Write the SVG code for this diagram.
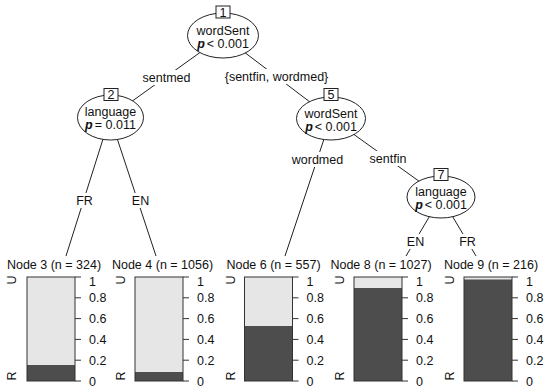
<svg xmlns="http://www.w3.org/2000/svg" width="550" height="391" viewBox="0 0 550 391">
<style>
text{font-family:"Liberation Sans",Arial,sans-serif;font-size:12.5px;fill:#111}
.mid{text-anchor:middle}
.edge{stroke:#222;stroke-width:1;fill:none}
.lblbg{fill:#fff}
.ell{fill:#fff;stroke:#222;stroke-width:1}
.box{fill:#fff;stroke:#222;stroke-width:1}
.light{fill:#e6e6e6}
.dark{fill:#4d4d4d}
.frame{fill:none;stroke:#333;stroke-width:1}
.tick{stroke:#333;stroke-width:1}
.it{font-style:italic;font-weight:bold}
</style>
<rect width="550" height="391" fill="#fff"/>
<g id="connectors">
<line class="edge" x1="223" y1="36" x2="110" y2="117"/>
<line class="edge" x1="223" y1="36" x2="331" y2="118"/>
<line class="edge" x1="110" y1="117" x2="66" y2="256"/>
<line class="edge" x1="110" y1="117" x2="156" y2="256"/>
<line class="edge" x1="331" y1="118" x2="285" y2="256"/>
<line class="edge" x1="331" y1="118" x2="441" y2="197"/>
<line class="edge" x1="441" y1="197" x2="406" y2="256"/>
<line class="edge" x1="441" y1="197" x2="476" y2="256"/>
<rect class="lblbg" x="140.5" y="70" width="52" height="15"/>
<text class="mid" x="166.5" y="81.5">sentmed</text>
<rect class="lblbg" x="222.5" y="69" width="108" height="15"/>
<text class="mid" x="276.5" y="80.5">{sentfin, wordmed}</text>
<rect class="lblbg" x="74.5" y="193" width="20" height="15"/>
<text class="mid" x="84.5" y="204.5">FR</text>
<rect class="lblbg" x="129.5" y="193" width="22" height="15"/>
<text class="mid" x="140.5" y="204.5">EN</text>
<rect class="lblbg" x="289.5" y="152" width="56" height="15"/>
<text class="mid" x="317.5" y="163.5">wordmed</text>
<rect class="lblbg" x="365" y="151" width="46" height="15"/>
<text class="mid" x="388" y="162.5">sentfin</text>
<rect class="lblbg" x="404.5" y="234" width="22" height="15"/>
<text class="mid" x="415.5" y="245.5">EN</text>
<rect class="lblbg" x="457.5" y="234" width="20" height="15"/>
<text class="mid" x="467.5" y="245.5">FR</text>
</g>
<g id="node1">
<ellipse class="ell" cx="223" cy="35.5" rx="35.5" ry="22.5"/>
<rect class="box" x="216" y="6" width="14" height="12"/>
<text class="mid" x="223" y="16.5">1</text>
<text class="mid" x="223" y="34.5">wordSent</text>
<text class="mid" x="223" y="48"><tspan class="it">p</tspan><tspan dx="2">&lt; 0.001</tspan></text>
</g>
<g id="node2">
<ellipse class="ell" cx="110.5" cy="117.5" rx="33" ry="22.5"/>
<rect class="box" x="104" y="88.5" width="14" height="12"/>
<text class="mid" x="111" y="99">2</text>
<text class="mid" x="110.5" y="115.5">language</text>
<text class="mid" x="110.5" y="128.5"><tspan class="it">p</tspan><tspan dx="2">= 0.011</tspan></text>
</g>
<g id="node5">
<ellipse class="ell" cx="331" cy="118.5" rx="34.5" ry="21.5"/>
<rect class="box" x="324" y="88.5" width="14" height="12"/>
<text class="mid" x="331" y="99">5</text>
<text class="mid" x="331" y="117.5">wordSent</text>
<text class="mid" x="331" y="130.5"><tspan class="it">p</tspan><tspan dx="2">&lt; 0.001</tspan></text>
</g>
<g id="node7">
<ellipse class="ell" cx="441" cy="197" rx="34" ry="21"/>
<rect class="box" x="434" y="168.5" width="14" height="12"/>
<text class="mid" x="441" y="179">7</text>
<text class="mid" x="441" y="196">language</text>
<text class="mid" x="441" y="209"><tspan class="it">p</tspan><tspan dx="2">&lt; 0.001</tspan></text>
</g>
<g id="node3">
<text class="mid" x="54" y="269">Node 3 (n = 324)</text>
<rect class="light" x="27" y="277" width="48" height="104"/>
<rect class="dark" x="27" y="365" width="48" height="16"/>
<rect class="frame" x="27" y="277" width="48" height="104"/>
<path class="tick" d="M75 277h6M75 297.8h6M75 318.6h6M75 339.4h6M75 360.2h6M75 381h6"/>
<text x="89" y="286">1</text><text x="89" y="302">0.8</text><text x="89" y="323">0.6</text><text x="89" y="344">0.4</text><text x="89" y="364.5">0.2</text><text x="89" y="385.5">0</text>
<text class="mid" transform="translate(12,280) rotate(-90)" y="4">U</text>
<text class="mid" transform="translate(12,376) rotate(-90)" y="4">R</text>
</g>
<g id="node4">
<text class="mid" x="162.5" y="269">Node 4 (n = 1056)</text>
<rect class="light" x="135" y="277" width="48" height="104"/>
<rect class="dark" x="135" y="372" width="48" height="9"/>
<rect class="frame" x="135" y="277" width="48" height="104"/>
<path class="tick" d="M183 277h6M183 297.8h6M183 318.6h6M183 339.4h6M183 360.2h6M183 381h6"/>
<text x="197" y="286">1</text><text x="197" y="302">0.8</text><text x="197" y="323">0.6</text><text x="197" y="344">0.4</text><text x="197" y="364.5">0.2</text><text x="197" y="385.5">0</text>
<text class="mid" transform="translate(121,280) rotate(-90)" y="4">U</text>
<text class="mid" transform="translate(121,376) rotate(-90)" y="4">R</text>
</g>
<g id="node6">
<text class="mid" x="273.5" y="269">Node 6 (n = 557)</text>
<rect class="light" x="244.5" y="277" width="48" height="104"/>
<rect class="dark" x="244.5" y="326" width="48" height="55"/>
<rect class="frame" x="244.5" y="277" width="48" height="104"/>
<path class="tick" d="M292.5 277h6M292.5 297.8h6M292.5 318.6h6M292.5 339.4h6M292.5 360.2h6M292.5 381h6"/>
<text x="306.5" y="286">1</text><text x="306.5" y="302">0.8</text><text x="306.5" y="323">0.6</text><text x="306.5" y="344">0.4</text><text x="306.5" y="364.5">0.2</text><text x="306.5" y="385.5">0</text>
<text class="mid" transform="translate(230.5,280) rotate(-90)" y="4">U</text>
<text class="mid" transform="translate(230.5,376) rotate(-90)" y="4">R</text>
</g>
<g id="node8">
<text class="mid" x="381" y="269">Node 8 (n = 1027)</text>
<rect class="light" x="354" y="277" width="48" height="104"/>
<rect class="dark" x="354" y="288" width="48" height="93"/>
<rect class="frame" x="354" y="277" width="48" height="104"/>
<path class="tick" d="M402 277h6M402 297.8h6M402 318.6h6M402 339.4h6M402 360.2h6M402 381h6"/>
<text x="416" y="286">1</text><text x="416" y="302">0.8</text><text x="416" y="323">0.6</text><text x="416" y="344">0.4</text><text x="416" y="364.5">0.2</text><text x="416" y="385.5">0</text>
<text class="mid" transform="translate(340,280) rotate(-90)" y="4">U</text>
<text class="mid" transform="translate(340,376) rotate(-90)" y="4">R</text>
</g>
<g id="node9">
<text class="mid" x="491" y="269">Node 9 (n = 216)</text>
<rect class="light" x="464" y="277" width="48" height="104"/>
<rect class="dark" x="464" y="279.5" width="48" height="101.5"/>
<rect class="frame" x="464" y="277" width="48" height="104"/>
<path class="tick" d="M512 277h6M512 297.8h6M512 318.6h6M512 339.4h6M512 360.2h6M512 381h6"/>
<text x="526" y="286">1</text><text x="526" y="302">0.8</text><text x="526" y="323">0.6</text><text x="526" y="344">0.4</text><text x="526" y="364.5">0.2</text><text x="526" y="385.5">0</text>
<text class="mid" transform="translate(450,280) rotate(-90)" y="4">U</text>
<text class="mid" transform="translate(450,376) rotate(-90)" y="4">R</text>
</g>
</svg>
